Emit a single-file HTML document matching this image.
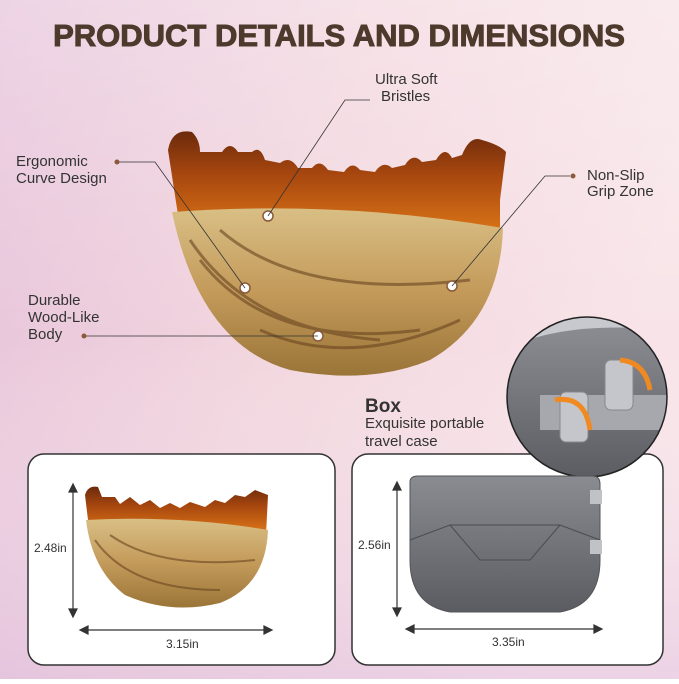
<!DOCTYPE html>
<html><head><style>
body{margin:0;width:679px;height:679px;overflow:hidden;font-family:"Liberation Sans",sans-serif}
</style></head><body>
<svg width="679" height="679" viewBox="0 0 679 679" xmlns="http://www.w3.org/2000/svg">
<defs>
<linearGradient id="bg" x1="0" y1="0" x2="1" y2="0.3">
<stop offset="0" stop-color="#e6c2da"/><stop offset="0.5" stop-color="#f2d6de"/><stop offset="1" stop-color="#f8e4e8"/>
</linearGradient>
<linearGradient id="bg2" x1="0" y1="0" x2="0" y2="1">
<stop offset="0" stop-color="#fff" stop-opacity="0.3"/><stop offset="0.5" stop-color="#fff" stop-opacity="0"/><stop offset="1" stop-color="#d9b8e0" stop-opacity="0.4"/>
</linearGradient>
<linearGradient id="br" x1="0" y1="0" x2="0" y2="1">
<stop offset="0" stop-color="#6b2a0c"/><stop offset="0.4" stop-color="#a8470f"/><stop offset="1" stop-color="#e07a18"/>
</linearGradient>
<linearGradient id="wd" x1="0" y1="0" x2="0" y2="1">
<stop offset="0" stop-color="#d9bf85"/><stop offset="0.5" stop-color="#c39a5a"/><stop offset="1" stop-color="#9a7538"/>
</linearGradient>
<linearGradient id="gy" x1="0" y1="0" x2="0" y2="1">
<stop offset="0" stop-color="#8a8c92"/><stop offset="1" stop-color="#5a5c62"/>
</linearGradient>
<clipPath id="cc"><circle cx="587" cy="397" r="80"/></clipPath>
</defs>
<rect width="679" height="679" fill="url(#bg)"/>
<rect width="679" height="679" fill="url(#bg2)"/>
<text x="339" y="46" text-anchor="middle" font-size="31" font-weight="bold" fill="#4e3a2c" stroke="#4e3a2c" stroke-width="1">PRODUCT DETAILS AND DIMENSIONS</text>

<!-- main brush -->
<path d="M168 150 Q172 128 192 132 Q200 140 200 152 L222 152 Q230 140 238 152 L252 152 Q260 145 265 160 L280 163 Q290 155 298 168 L312 168 Q320 158 328 170 L344 172 Q352 160 360 170 L375 172 Q383 160 392 168 L405 165 Q413 152 422 162 L436 160 Q445 145 452 158 L462 155 Q470 135 482 140 Q500 145 506 152 L500 200 L500 240 L178 215 Z" fill="url(#br)"/>
<path d="M172 212 Q340 200 503 228 Q500 320 430 360 Q370 385 290 370 Q200 345 172 212 Z" fill="url(#wd)"/>
<g stroke="#6a4520" stroke-width="3" fill="none" opacity="0.6">
<path d="M190 240 Q250 330 380 340"/><path d="M200 260 Q270 350 420 330"/><path d="M220 230 Q300 300 470 280"/><path d="M260 330 Q350 370 460 320"/>
</g>
<g fill="#fff" stroke="#8a5a3a" stroke-width="1.5">
<circle cx="268" cy="216" r="5"/><circle cx="245" cy="288" r="5"/><circle cx="452" cy="286" r="5"/><circle cx="318" cy="336" r="5"/>
</g>
<g stroke="#333" stroke-width="0.8" fill="none">
<polyline points="268,216 345,100 370,100"/>
<polyline points="117,162 155,162 245,288"/>
<polyline points="452,286 545,176 570,176"/>
<line x1="86" y1="336" x2="318" y2="336"/>
</g>
<g font-size="15" fill="#333">
<text x="375" y="84">Ultra Soft</text><text x="381" y="101">Bristles</text>
<text x="16" y="166">Ergonomic</text><text x="16" y="183">Curve Design</text>
<text x="587" y="180">Non-Slip</text><text x="587" y="196">Grip Zone</text>
<text x="28" y="305">Durable</text><text x="28" y="322">Wood-Like</text><text x="28" y="339">Body</text>
</g>
<g fill="#8a5a3a"><circle cx="117" cy="162" r="2.5"/><circle cx="573" cy="176" r="2.5"/><circle cx="84" cy="336" r="2.5"/></g>

<text x="365" y="412" font-size="19" font-weight="bold" fill="#333">Box</text>
<text x="365" y="428" font-size="15" fill="#333">Exquisite portable</text>
<text x="365" y="446" font-size="15" fill="#333">travel case</text>

<!-- boxes -->
<rect x="28" y="454" width="307" height="211" rx="16" fill="#fff" stroke="#333" stroke-width="1.5"/>
<rect x="352" y="454" width="311" height="211" rx="16" fill="#fff" stroke="#333" stroke-width="1.5"/>

<!-- circle inset -->
<circle cx="587" cy="397" r="80" fill="#c8c9ce"/>
<g clip-path="url(#cc)">
<path d="M505 350 Q560 320 670 330 L670 480 L505 480 Z" fill="url(#gy)"/>
<rect x="540" y="395" width="140" height="35" fill="#a6a8ae"/>
<rect x="560" y="392" width="28" height="50" rx="6" fill="#c4c6cc" stroke="#888"/>
<rect x="605" y="360" width="28" height="50" rx="6" fill="#c4c6cc" stroke="#888"/>
<path d="M555 400 Q585 395 590 430" stroke="#f08a20" stroke-width="5" fill="none"/>
<path d="M620 360 Q645 362 650 390" stroke="#f08a20" stroke-width="5" fill="none"/>
</g>
<circle cx="587" cy="397" r="80" fill="none" stroke="#222" stroke-width="1.5"/>

<!-- small brush -->
<path d="M85 495 Q88 485 98 487 L102 497 L115 497 L120 504 L130 497 L140 505 L150 500 L160 508 L170 503 L180 508 L190 502 L205 507 L215 500 L225 503 L235 495 L245 497 L255 490 L268 495 L266 535 L88 520 Z" fill="url(#br)"/>
<path d="M86 520 Q180 515 268 530 Q266 585 220 603 Q170 615 125 595 Q92 570 86 520 Z" fill="url(#wd)"/>
<g stroke="#6a4520" stroke-width="2" fill="none" opacity="0.6">
<path d="M95 540 Q130 590 220 590"/><path d="M110 535 Q160 570 255 560"/>
</g>
<g stroke="#333" stroke-width="1.2" fill="#333">
<line x1="73" y1="486" x2="73" y2="615"/><path d="M69 492 L73 484 L77 492 Z"/><path d="M69 609 L73 617 L77 609 Z"/>
<line x1="82" y1="630" x2="270" y2="630"/><path d="M88 626 L80 630 L88 634 Z"/><path d="M264 626 L272 630 L264 634 Z"/>
<line x1="397" y1="484" x2="397" y2="614"/><path d="M393 490 L397 482 L401 490 Z"/><path d="M393 608 L397 616 L401 608 Z"/>
<line x1="408" y1="629" x2="600" y2="629"/><path d="M414 625 L406 629 L414 633 Z"/><path d="M594 625 L602 629 L594 633 Z"/>
</g>
<g font-size="12" fill="#333">
<text x="34" y="552">2.48in</text><text x="166" y="648">3.15in</text>
<text x="358" y="549">2.56in</text><text x="492" y="646">3.35in</text>
</g>
<!-- gray box -->
<path d="M410 482 Q410 476 418 476 L592 476 Q600 476 600 484 L600 560 Q600 605 560 612 L450 612 Q410 605 410 560 Z" fill="url(#gy)" stroke="#555"/>
<path d="M410 540 L450 525 L560 525 L600 540" stroke="#4a4c52" fill="none"/>
<path d="M450 525 L480 560 L530 560 L560 525" stroke="#4a4c52" fill="none"/>
<rect x="590" y="490" width="12" height="14" fill="#c0c2c6"/><rect x="590" y="540" width="12" height="14" fill="#c0c2c6"/>
</svg>
</body></html>
